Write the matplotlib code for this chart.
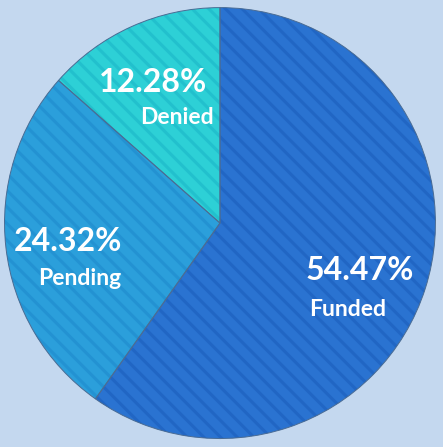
import numpy as np
import matplotlib
matplotlib.use("Agg")
import matplotlib.pyplot as plt

labels = ["Funded", "Pending", "Denied"]
values = [54.47, 24.32, 12.28]
face_colors = ["#2a73d1", "#2b9fdb", "#2dd0d6"]
stripe_colors = ["#2166c4", "#2392d2", "#22c0cd"]

# nudges for the two text lines (pct, name) relative to the slice midpoint
pct_shift = [(0.02, -0.02), (-0.05, -0.01), (-0.04, 0.05)]
name_shift = [(-0.035, -0.20), (0.005, -0.18), (0.07, -0.11)]

plt.rcParams["hatch.linewidth"] = 2.2

fig = plt.figure(figsize=(4.43, 4.47), dpi=100)
fig.patch.set_facecolor("#c4d8ef")
ax = fig.add_axes([0, 0, 1, 1])
ax.set_facecolor("#c4d8ef")

wedges, _ = ax.pie(values, colors=face_colors, startangle=90, counterclock=False,
                   radius=1.0, wedgeprops=dict(linewidth=0))
for w, sc in zip(wedges, stripe_colors):
    w.set_edgecolor(sc)
    w.set_hatch("\\\\")

# thin outlines between slices
ax.pie(values, colors=["none"] * 3, startangle=90, counterclock=False, radius=1.0,
       wedgeprops=dict(linewidth=0.7, edgecolor="#4a6c94", fill=False))

for w, lab, v, ps, ns in zip(wedges, labels, values, pct_shift, name_shift):
    mid = np.deg2rad((w.theta1 + w.theta2) / 2)
    x, y = 0.66 * np.cos(mid), 0.66 * np.sin(mid)
    ax.text(x + ps[0], y + ps[1], f"{v:.2f}%", ha="center", va="center",
            color="white", fontsize=23, fontweight="bold", family="Lato")
    ax.text(x + ns[0], y + ns[1], lab, ha="center", va="center", color="white",
            fontsize=16.5, fontweight="bold", family="Lato")

ax.set_xlim(-1.021, 1.035)
ax.set_ylim(-1.039, 1.035)
ax.set_aspect("equal")
ax.axis("off")

fig.savefig("out.png", dpi=100, facecolor=fig.get_facecolor())
